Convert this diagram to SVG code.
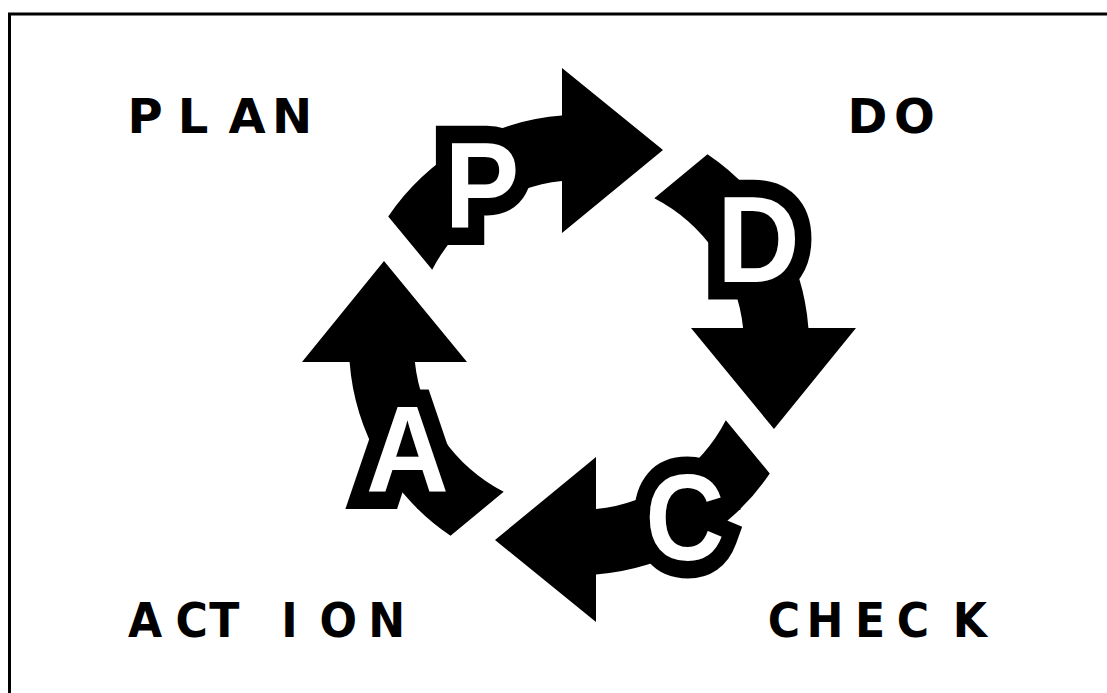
<svg xmlns="http://www.w3.org/2000/svg" xmlns:xlink="http://www.w3.org/1999/xlink" width="1107" height="693" viewBox="0 0 1107 693">
<style>
.label{font-family:"DejaVu Sans",Verdana,sans-serif;font-weight:bold;font-size:48px;fill:#000;text-anchor:middle}
.letter{font-family:"Liberation Sans",Arial,sans-serif;font-weight:bold;font-size:122px;fill:#fff;stroke:#000;stroke-width:35px;stroke-linejoin:miter;stroke-miterlimit:2;paint-order:stroke;text-anchor:middle}
.arrow{fill:#000}
</style>
<defs>
<path id="arrow" class="arrow" d="M -190.76 -128.5 A 230 230 0 0 1 -17 -229.4 L -17 -277 L 84 -195 L -17 -112 L -17 -164.1 A 165 165 0 0 0 -146.8 -75.3 Z"/>
</defs>
<rect x="0" y="0" width="1107" height="693" fill="#fff"/>
<rect x="9.5" y="14" width="1200" height="800" fill="none" stroke="#000" stroke-width="3"/>
<g id="connectors"/>
<g id="node-plan">
<use xlink:href="#arrow" href="#arrow" transform="translate(579 345)"/>
<text class="letter" transform="translate(482 228) scale(0.92 1)" x="0" y="0">P</text>
</g>
<g id="node-do">
<use xlink:href="#arrow" href="#arrow" transform="translate(579 345) rotate(90)"/>
<text class="letter" transform="translate(758.5 282) scale(0.94 1)" x="0" y="0">D</text>
</g>
<g id="node-check">
<use xlink:href="#arrow" href="#arrow" transform="translate(579 345) rotate(180)"/>
<text class="letter" transform="translate(685 560) scale(0.9 1)" x="0" y="0">C</text>
</g>
<g id="node-action">
<use xlink:href="#arrow" href="#arrow" transform="translate(579 345) rotate(270)"/>
<text class="letter" transform="translate(407.5 492) scale(0.94 1)" x="0" y="0">A</text>
</g>
<g id="label-plan"><text class="label" x="145 193 247 292" y="133">PLAN</text></g>
<g id="label-do"><text class="label" x="867.5 914.5" y="133">DO</text></g>
<g id="label-action"><text class="label" transform="scale(0.92 1)" x="157.6 208.4 243.7 314.7 367.7 420.3" y="637">ACTION</text></g>
<g id="label-check"><text class="label" transform="scale(0.92 1)" x="852.2 896.7 945.7 992.4 1054.3" y="637">CHECK</text></g>
</svg>
